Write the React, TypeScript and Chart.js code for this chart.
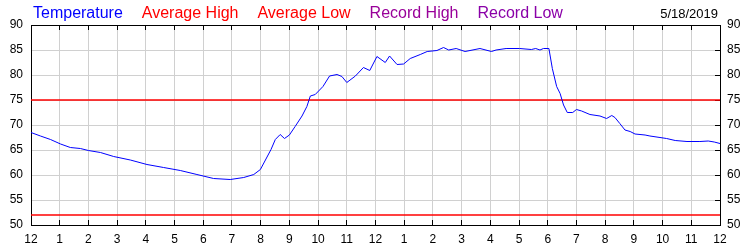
import React, { useEffect, useRef } from "react";
import { Chart, registerables } from "chart.js";

Chart.register(...registerables);

const hours = [
  0, 0.33, 0.68, 1.03, 1.37, 1.72, 2.0, 2.42, 2.88, 3.46, 4.04, 4.62, 5.2, 5.78, 6.36, 6.94, 7.41, 7.76, 7.99,
  8.36, 8.51, 8.68, 8.83, 9.0, 9.2, 9.44, 9.61, 9.73, 9.9, 10.17, 10.4, 10.66, 10.83, 11.0, 11.3, 11.58, 11.8,
  12.05, 12.34, 12.49, 12.75, 12.98, 13.21, 13.56, 13.8, 14.14, 14.37, 14.55, 14.81, 15.12, 15.64, 16.04, 16.2,
  16.55, 17.02, 17.43, 17.58, 17.73, 17.85, 18.04, 18.16, 18.31, 18.43, 18.55, 18.68, 18.87, 19.0, 19.18, 19.47,
  19.82, 20.05, 20.23, 20.34, 20.51, 20.69, 20.87, 21.04, 21.39, 21.56, 21.91, 22.14, 22.44, 22.85, 23.3, 23.59,
  23.8, 24,
];
const temperature = [
  68.5, 67.8, 67.1, 66.2, 65.5, 65.3, 64.9, 64.5, 63.7, 63.0, 62.1, 61.5, 60.9, 60.1, 59.3, 59.1, 59.5, 60.1, 61.1,
  65.1, 67.1, 68.1, 67.3, 68.0, 69.7, 71.8, 73.7, 75.8, 76.1, 77.7, 79.8, 80.1, 79.7, 78.5, 79.8, 81.5, 80.9,
  83.7, 82.5, 83.8, 82.1, 82.2, 83.3, 84.1, 84.7, 84.9, 85.5, 85.0, 85.3, 84.7, 85.3, 84.7, 85.0,
  85.3, 85.3, 85.1, 85.3, 85.0, 85.3, 85.3, 81.3, 77.7, 76.3, 74.0, 72.5, 72.5, 73.1, 72.8, 72.1,
  71.8, 71.3, 71.9, 71.5, 70.3, 69.0, 68.7, 68.2, 68.0, 67.8, 67.5, 67.3, 66.9, 66.7, 66.7, 66.8,
  66.6, 66.3,
];
const averageHigh = 75;
const averageLow = 52;
const dayRange = [0, 24];
const yRange = [50, 90];
const dateLabel = "5/18/2019";

const FONT = "'Liberation Sans', Arial, sans-serif";

const legendPlugin = {
  id: "customLegend",
  afterDraw(chart: any) {
    const ctx = chart.ctx;
    ctx.save();
    ctx.font = `16px ${FONT}`;
    ctx.textBaseline = "alphabetic";
    ctx.textAlign = "left";
    let x = chart.chartArea.left + 2;
    const y = 18;
    chart.data.datasets.forEach((ds: any) => {
      ctx.fillStyle = ds.borderColor;
      ctx.fillText(ds.label, x, y);
      x += ctx.measureText(ds.label).width + 19;
    });
    ctx.font = `13px ${FONT}`;
    ctx.fillStyle = "#000";
    ctx.textAlign = "right";
    ctx.fillText(dateLabel, chart.chartArea.right - 2, 17.5);
    ctx.restore();
  },
};

export default function App() {
  const ref = useRef<HTMLCanvasElement>(null);
  useEffect(() => {
    document.body.style.margin = "0";
    const tempData = hours.map((h, i) => ({ x: h, y: temperature[i] }));
    const hiData = dayRange.map((h) => ({ x: h, y: averageHigh }));
    const loData = dayRange.map((h) => ({ x: h, y: averageLow }));
    const tickFont = { family: FONT, size: 12 };
    const chart = new Chart(ref.current!, {
      type: "line",
      data: {
        datasets: [
          { label: "Temperature", data: tempData, borderColor: "#0000ff", borderWidth: 1, pointRadius: 0, tension: 0 },
          { label: "Average High", data: hiData, borderColor: "#ff0000", borderWidth: 1.5, pointRadius: 0 },
          { label: "Average Low", data: loData, borderColor: "#ff0000", borderWidth: 1.5, pointRadius: 0 },
          { label: "Record High", data: [], borderColor: "#990099", borderWidth: 1, pointRadius: 0 },
          { label: "Record Low", data: [], borderColor: "#8a00a8", borderWidth: 1, pointRadius: 0 },
        ],
      },
      options: {
        animation: false,
        responsive: false,
        events: [],
        layout: { padding: { top: 25, left: 0, right: 0, bottom: 0 } },
        plugins: { legend: { display: false }, tooltip: { enabled: false } },
        scales: {
          x: {
            type: "linear",
            position: "bottom",
            min: dayRange[0],
            max: dayRange[1],
            grid: { color: "#d0d0d0", tickColor: "#000", tickLength: -5, lineWidth: 1 },
            border: { color: "#000", width: 1 },
            ticks: {
              stepSize: 1,
              autoSkip: false,
              maxRotation: 0,
              padding: 12,
              color: "#000",
              font: tickFont,
              callback: (v: any) => String(Number(v) % 12 === 0 ? 12 : Number(v) % 12),
            },
            afterFit: (s: any) => {
              s.height = 25;
            },
          },
          x2: {
            type: "linear",
            position: "top",
            min: dayRange[0],
            max: dayRange[1],
            grid: { drawOnChartArea: false, tickColor: "#000", tickLength: -5 },
            border: { color: "#000", width: 1 },
            ticks: { stepSize: 1, autoSkip: false, display: false },
            afterFit: (s: any) => {
              s.height = 0;
            },
          },
          y: {
            position: "left",
            min: yRange[0],
            max: yRange[1],
            grid: { color: "#d0d0d0", drawTicks: false },
            border: { color: "#000", width: 1 },
            ticks: { stepSize: 5, padding: 8, color: "#000", font: tickFont },
            afterFit: (s: any) => {
              s.width = 31;
            },
          },
          y2: {
            position: "right",
            min: yRange[0],
            max: yRange[1],
            grid: { drawOnChartArea: false, tickColor: "#000", tickLength: -5 },
            border: { color: "#000", width: 1 },
            ticks: { stepSize: 5, padding: 12, color: "#000", font: tickFont },
            afterFit: (s: any) => {
              s.width = 30;
            },
          },
        },
      },
      plugins: [legendPlugin],
    });
    return () => chart.destroy();
  }, []);
  return (
    <div style={{ width: 750, height: 250 }}>
      <canvas ref={ref} width={750} height={250} style={{ width: 750, height: 250, display: "block" }} />
    </div>
  );
}
